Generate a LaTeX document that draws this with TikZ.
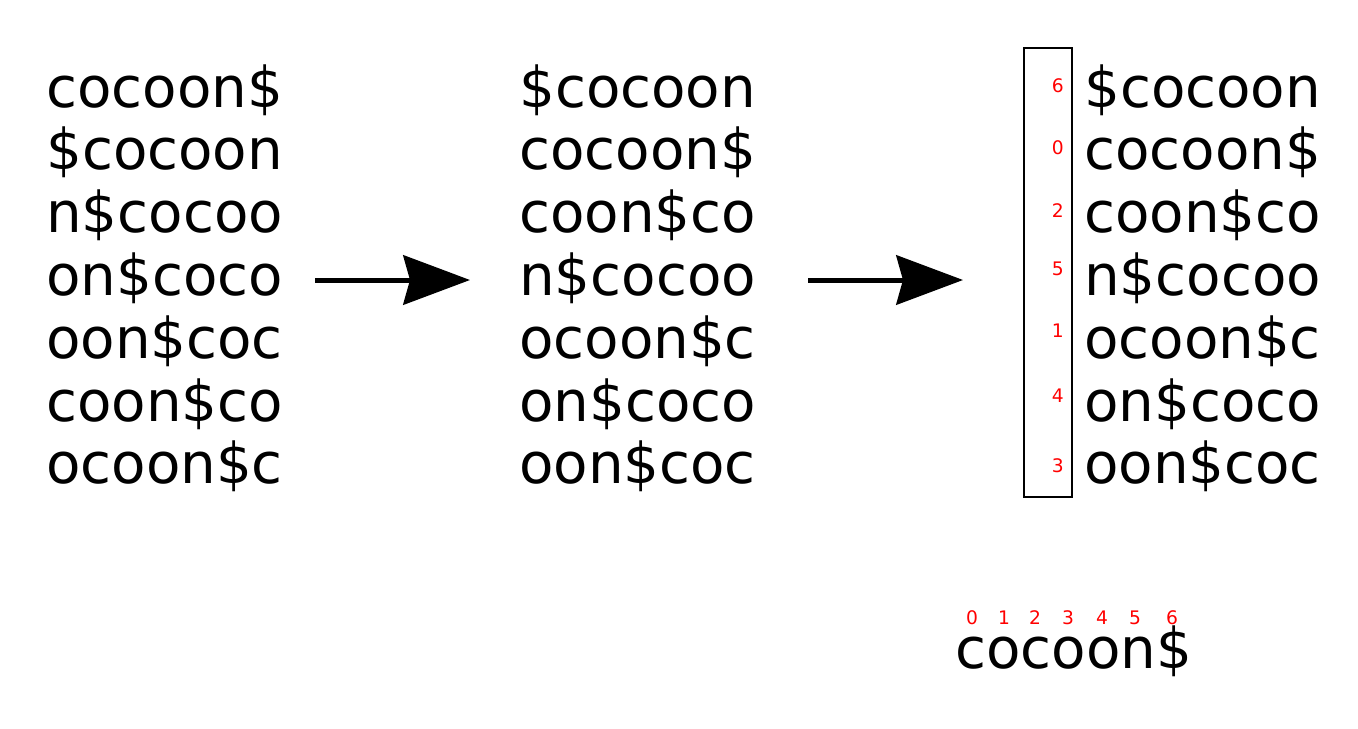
\documentclass[tikz,border=0pt]{standalone}
\usepackage{fontspec}
\setmainfont{DejaVu Sans}
\usetikzlibrary{arrows.meta}
\begin{document}
\begin{tikzpicture}[x=0.75pt,y=-0.75pt,
  row/.style={anchor=base west,inner sep=0pt,font=\fontsize{42.2}{42.2}\selectfont},
  idx/.style={inner sep=0pt,text=red,font=\fontsize{14}{14}\selectfont},
  bigarrow/.style={line width=3.75pt,-{Stealth[length=50pt,width=37pt,inset=5pt]}},
  suffbox/.style={draw,line width=1.5pt,inner sep=0pt,minimum width=36pt,minimum height=336.75pt}]
\useasboundingbox (0,0) rectangle (1358,728);
% column 1
\foreach \t [count=\i from 0] in {cocoon\$,\$cocoon,n\$cocoo,on\$coco,oon\$coc,coon\$co,ocoon\$c}
  \node[row] (a\i) at (46,107+62.8*\i) {\t};
% column 2
\foreach \t [count=\i from 0] in {\$cocoon,cocoon\$,coon\$co,n\$cocoo,ocoon\$c,on\$coco,oon\$coc}
  \node[row] (b\i) at (519,107+62.8*\i) {\t};
% column 3
\foreach \t [count=\i from 0] in {\$cocoon,cocoon\$,coon\$co,n\$cocoo,ocoon\$c,on\$coco,oon\$coc}
  \node[row] (c\i) at (1084,107+62.8*\i) {\t};
% index box
\node[suffbox] (box) at (1048,272.5) {};
\foreach \d/\y [count=\i from 0] in {6/86,0/148,2/211,5/269,1/331,4/396,3/466}
  \node[idx,anchor=east] (l\i) at (1064,\y) {\d};
% arrows
\coordinate (s1) at (315,280);
\coordinate (e1) at (470,280);
\coordinate (s2) at (808,280);
\coordinate (e2) at (963,280);
\draw[bigarrow] (s1) -- (e1);
\draw[bigarrow] (s2) -- (e2);
% bottom string
\node[row] (str) at (955,668) {cocoon\$};
\foreach \d/\x in {0/972,1/1004,2/1035,3/1068,4/1102,5/1135,6/1172}
  \node[idx] (p\d) at (\x,618) {\d};
\end{tikzpicture}
\end{document}
